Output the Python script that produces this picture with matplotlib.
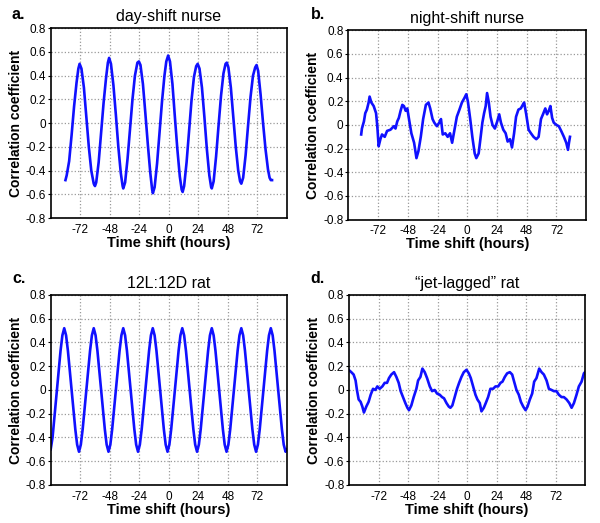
import matplotlib
matplotlib.use("Agg")
import matplotlib.pyplot as plt

plt.rcParams['font.family'] = ['Liberation Sans', 'DejaVu Sans']
plt.rcParams['axes.unicode_minus'] = False

# ======================
# DATA
# ======================
titles = ["day-shift nurse", "night-shift nurse", "12L:12D rat", "\u201cjet-lagged\u201d rat"]
letters = ["a.", "b.", "c.", "d."]
x_ticks = [-72, -48, -24, 0, 24, 48, 72]
y_ticks = [-0.8, -0.6, -0.4, -0.2, 0, 0.2, 0.4, 0.6, 0.8]
y_tick_labels = ["-0.8", "-0.6", "-0.4", "-0.2", "0", "0.2", "0.4", "0.6", "0.8"]

# a. day-shift nurse
a_x = [-84, -83, -81, -79, -77, -75, -73.5, -72.5, -71, -69, -67, -65, -63, -61, -60,
       -59, -57, -55, -53, -51, -49.5, -48.5, -47, -45, -43, -41, -39, -37.5, -37,
       -35.5, -33.5, -31.5, -29.5, -27.5, -25.5, -24.3, -23, -21, -19, -17, -15, -13.5, -12.9,
       -11.5, -9.5, -7.5, -5.5, -3.5, -2, -0.5, 1, 3, 5, 7, 9, 10.5, 11.3,
       12.5, 14.5, 16.5, 18.5, 20.5, 22.3, 23.5, 25, 27, 29, 31, 33, 34.5, 35,
       36.5, 38.5, 40.5, 42.5, 44.5, 46.2, 47.2, 48.5, 50.5, 52.5, 54.5, 56.5, 58, 59,
       60.5, 62.5, 64.5, 66.5, 68.5, 70.3, 71.4, 72.7, 74.7, 76.7, 78.7, 80.7, 82, 83, 84]
a_y = [-0.48, -0.44, -0.32, -0.10, 0.14, 0.34, 0.46, 0.50, 0.46, 0.30, 0.05, -0.20, -0.40, -0.51, -0.53,
       -0.50, -0.33, -0.08, 0.17, 0.38, 0.51, 0.55, 0.50, 0.32, 0.07, -0.20, -0.42, -0.53, -0.55,
       -0.50, -0.30, -0.05, 0.20, 0.40, 0.51, 0.52, 0.49, 0.33, 0.08, -0.18, -0.42, -0.56, -0.59,
       -0.54, -0.34, -0.08, 0.18, 0.40, 0.52, 0.57, 0.52, 0.33, 0.05, -0.22, -0.45, -0.56, -0.58,
       -0.53, -0.33, -0.07, 0.19, 0.39, 0.48, 0.50, 0.46, 0.30, 0.05, -0.22, -0.44, -0.54, -0.55,
       -0.49, -0.28, -0.02, 0.23, 0.42, 0.50, 0.51, 0.47, 0.30, 0.05, -0.20, -0.40, -0.49, -0.51,
       -0.46, -0.27, -0.02, 0.22, 0.40, 0.47, 0.49, 0.44, 0.24, 0.00, -0.22, -0.39, -0.46, -0.48, -0.48]

# b. night-shift nurse
b_x = [-85.6, -85, -83.4, -82.3, -81, -79.6, -78.8, -77.4, -75.5, -73.6, -72.6, -71.5, -70.1,
       -68.8, -66.6, -64.7, -62, -59.2, -57.9, -56.5, -55.2, -53.8, -52.4, -51.1, -49.7, -48.4,
       -47, -45.1, -42.9, -41, -39.4, -37.5, -35.6, -33.4, -31.3, -29.9, -28, -26.6, -24.5,
       -22.6, -21.2, -19.8, -17.7, -15.8, -13.9, -12.2, -10.3, -8.4, -6.3, -4.3, -2.2, -0.8,
       0.5, 2.4, 4.1, 6, 7.3, 9.2, 10.6, 12.2, 13.6, 14.9, 16, 17.4, 18.8, 20.4, 22.3, 24.2,
       25.8, 27.2, 29.1, 31, 32.6, 34.5, 36.1, 37.8, 39.4, 41.3, 43.2, 44.8, 45.9, 47.6, 49.5,
       51.4, 53.5, 55.7, 57.6, 59.5, 61.1, 63, 64.4, 65.8, 67.1, 68.5, 69.8, 72, 73.9, 75.8,
       78, 79.9, 81.3, 82.1, 82.9]
b_y = [-0.08, -0.03, 0.03, 0.10, 0.13, 0.19, 0.24, 0.19, 0.16, 0.10, -0.01, -0.18, -0.12,
       -0.08, -0.10, -0.05, -0.04, -0.01, -0.03, 0.03, 0.06, 0.12, 0.17, 0.16, 0.12, 0.14,
       0.05, -0.07, -0.15, -0.28, -0.22, -0.10, 0.05, 0.17, 0.19, 0.14, 0.05, 0.02, -0.01,
       0.02, 0.05, -0.08, -0.07, -0.10, -0.07, -0.15, -0.04, 0.07, 0.13, 0.19, 0.23, 0.26,
       0.20, 0.05, -0.10, -0.24, -0.28, -0.24, -0.12, 0.02, 0.10, 0.16, 0.27, 0.19, 0.07, 0.00,
       -0.03, 0.03, 0.09, 0.02, -0.04, -0.07, -0.14, -0.12, -0.19, -0.07, 0.07, 0.13, 0.14,
       0.17, 0.19, 0.09, -0.04, -0.07, -0.10, -0.12, -0.10, 0.05, 0.09, 0.14, 0.09, 0.12, 0.16,
       0.06, 0.02, 0.00, -0.01, -0.05, -0.10, -0.15, -0.21, -0.15, -0.10]

# c. 12L:12D rat
c_x = [-96, -94.5, -88, -86.5, -85, -83.5, -82, -76, -74.5, -73, -71.5, -70, -64, -62.5, -61,
       -59.5, -58, -52, -50.5, -49, -47.5, -46, -40, -38.5, -37, -35.5, -34, -28, -26.5, -25,
       -23.5, -22, -16, -14.5, -13, -11.5, -10, -4, -2.5, -1, 0.5, 2, 8, 9.5, 11, 12.5, 14,
       20, 21.5, 23, 24.5, 26, 32, 33.5, 35, 36.5, 38, 44, 45.5, 47, 48.5, 50, 56, 57.5, 59,
       60.5, 62, 68, 69.5, 71, 72.5, 74, 80, 81.5, 83, 84.5, 86, 92, 93.5, 95, 96]
c_y = [-0.50, -0.40, 0.33, 0.46, 0.52, 0.46, 0.33, -0.33, -0.46, -0.52, -0.46, -0.33, 0.33, 0.46, 0.52,
       0.46, 0.33, -0.33, -0.46, -0.52, -0.46, -0.33, 0.33, 0.46, 0.52, 0.46, 0.33, -0.33, -0.46, -0.52,
       -0.46, -0.33, 0.33, 0.46, 0.52, 0.46, 0.33, -0.33, -0.46, -0.52, -0.46, -0.33, 0.33, 0.46, 0.52, 0.46, 0.33,
       -0.33, -0.46, -0.52, -0.46, -0.33, 0.33, 0.46, 0.52, 0.46, 0.33, -0.33, -0.46, -0.52, -0.46, -0.33, 0.33, 0.46, 0.52,
       0.46, 0.33, -0.33, -0.46, -0.52, -0.46, -0.33, 0.33, 0.46, 0.52, 0.46, 0.33, -0.33, -0.46, -0.52, -0.50]

# d. "jet-lagged" rat
d_x = [-96.5, -94.3, -92.4, -90.8, -89.7, -88.3, -86.7, -85.3, -84, -82.1, -80.2, -78.5, -76.6,
       -74.7, -73.1, -71.2, -69, -67.1, -65.2, -63.6, -61.7, -59.5, -57.6, -55.7, -54.1, -52.2,
       -50.3, -48.6, -47.3, -45.4, -43.5, -41.3, -39.9, -38, -36.4, -34.5, -32.6, -30.4, -28.5,
       -26.4, -24.5, -22.3, -20.4, -18.8, -16.8, -14.9, -13.6, -12, -10.1, -8.2, -6.5, -4.6,
       -2.7, -0.5, 1.4, 3, 4.9, 6.8, 8.4, 10.3, 11.7, 13.6, 15.2, 17.1, 19, 21.2, 23.1, 25.3,
       27.2, 28.8, 30.7, 32.6, 34.8, 36.7, 38.3, 40.2, 42.1, 43.8, 45.7, 47.6, 49.2, 51.1, 53,
       54.6, 56.5, 58.7, 60.6, 62.5, 64.7, 66.6, 68.8, 70.7, 72.8, 74.7, 76.9, 78.8, 81, 83.2,
       85.1, 87, 89.1, 91, 93.2, 95.1, 96]
d_y = [0.17, 0.15, 0.13, 0.08, 0.00, -0.08, -0.10, -0.14, -0.19, -0.14, -0.10, -0.04, 0.01,
       0.00, 0.03, 0.01, 0.03, 0.06, 0.06, 0.10, 0.13, 0.15, 0.11, 0.06, -0.01, -0.06,
       -0.11, -0.15, -0.17, -0.13, -0.06, 0.01, 0.08, 0.11, 0.18, 0.15, 0.10, 0.03, -0.01,
       0.00, -0.03, -0.04, -0.06, -0.07, -0.11, -0.14, -0.15, -0.13, -0.06, 0.01, 0.06, 0.11,
       0.15, 0.17, 0.14, 0.10, 0.03, -0.04, -0.08, -0.11, -0.18, -0.15, -0.11, -0.06, 0.01, 0.01, 0.03, 0.03,
       0.06, 0.07, 0.11, 0.14, 0.15, 0.13, 0.07, 0.00, -0.04, -0.10, -0.14, -0.17, -0.14, -0.08, -0.03,
       0.07, 0.10, 0.18, 0.15, 0.13, 0.08, 0.01, 0.00, -0.01, -0.01, -0.04, -0.06, -0.06, -0.08, -0.11,
       -0.15, -0.11, -0.04, 0.03, 0.07, 0.14, 0.15]

series = [(a_x, a_y), (b_x, b_y), (c_x, c_y), (d_x, d_y)]

# axes boxes in figure fraction [left, bottom, width, height]
boxes = [
    [0.0845, 0.583, 0.3935, 0.363],
    [0.5805, 0.580, 0.3965, 0.362],
    [0.0845, 0.0727, 0.3935, 0.3633],
    [0.582, 0.0727, 0.393, 0.3633],
]
# panel letter positions (figure fraction)
letter_pos = [(0.02, 0.972), (0.518, 0.972), (0.02, 0.468), (0.518, 0.468)]

fig = plt.figure(figsize=(6, 5.23), dpi=100)

for i in range(4):
    ax = fig.add_axes(boxes[i])
    xs, ys = series[i]
    ax.plot(xs, ys, color='#1010ff', linewidth=1.9, solid_joinstyle='round')

    ax.set_xlim(-96, 96)
    ax.set_ylim(-0.8, 0.8)
    ax.set_xticks(x_ticks)
    ax.set_yticks(y_ticks)
    ax.set_yticklabels(y_tick_labels)
    ax.tick_params(axis='x', length=0, pad=4, labelsize=8.5)
    ax.tick_params(axis='y', length=2.5, width=0.8, pad=1, labelsize=8.5)
    ax.grid(True, linestyle=':', color='#999999', linewidth=0.9)

    for s in ax.spines.values():
        s.set_color('black')
        s.set_linewidth(1.2)

    ax.set_xlabel("Time shift (hours)", fontsize=10.5, fontweight='bold', labelpad=0)
    ax.set_ylabel("Correlation coefficient", fontsize=10, fontweight='bold', labelpad=2)
    ax.set_title(titles[i], fontsize=11.5, pad=5)
    fig.text(letter_pos[i][0], letter_pos[i][1], letters[i], fontsize=11.5,
             fontweight='bold', ha='left', va='center')

fig.savefig("out.png", dpi=100)
